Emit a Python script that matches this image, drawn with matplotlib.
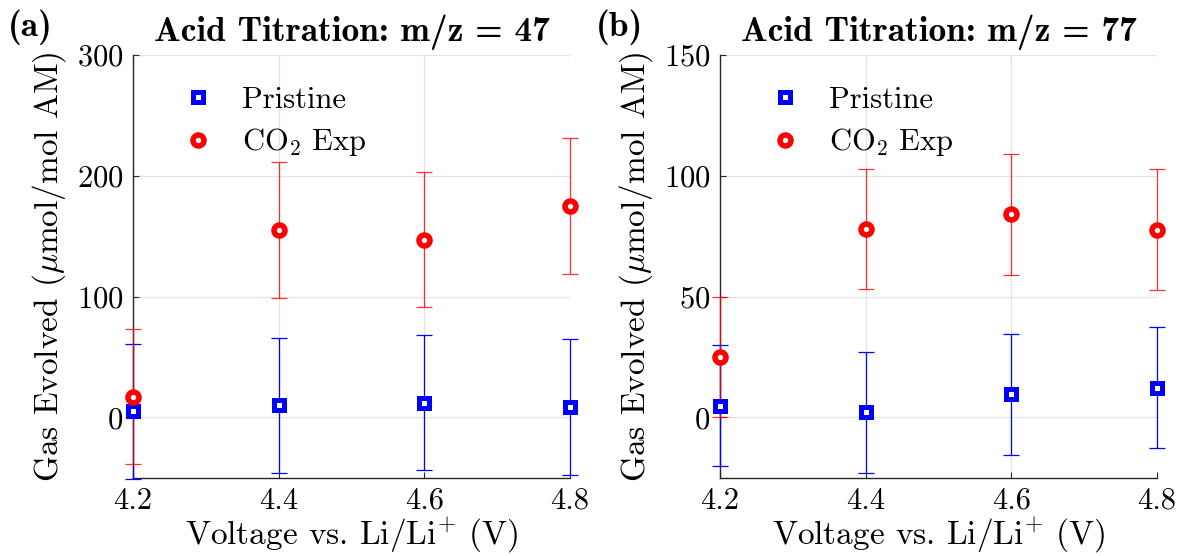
import matplotlib
matplotlib.use("Agg")
import matplotlib.pyplot as plt

plt.rcParams["font.family"] = "serif"
plt.rcParams["font.serif"] = ["cmr10"]
plt.rcParams["mathtext.fontset"] = "cm"
plt.rcParams["axes.formatter.use_mathtext"] = True
plt.rcParams["axes.unicode_minus"] = False

voltage = [4.2, 4.4, 4.6, 4.8]

# m/z = 47
pristine_47 = [5, 10, 12, 8.6]
pristine_47_err = [56, 56, 56, 56]
co2_47 = [17, 155, 147, 175]
co2_47_err = [56, 56, 56, 56]

# m/z = 77
pristine_77 = [4.8, 2.1, 9.5, 12.2]
pristine_77_err = [25, 25, 25, 25]
co2_77 = [25, 78, 84, 77.6]
co2_77_err = [25, 25, 25, 25]

panels = [
    ("(a)", "Acid Titration: m/z = 47", pristine_47, pristine_47_err,
     co2_47, co2_47_err, (-50, 300), [0, 100, 200, 300]),
    ("(b)", "Acid Titration: m/z = 77", pristine_77, pristine_77_err,
     co2_77, co2_77_err, (-25, 150), [0, 50, 100, 150]),
]

W, H = 1177, 556
fig = plt.figure(figsize=(W / 100, H / 100), dpi=100)
lefts_px = [133, 720]
width_px = 437
top_px, bottom_px = 55, 477.7

tick_fs = 22
legend_fs = 22
label_fs = 24
title_fs = 25.5

tag_x_px = [8, 596]

for i, (tag, title, p, pe, c, ce, ylim, yticks) in enumerate(panels):
    ax = fig.add_axes([lefts_px[i] / W, 1 - bottom_px / H,
                       width_px / W, (bottom_px - top_px) / H])
    # error bars
    ax.errorbar(voltage, p, yerr=pe, fmt="none", ecolor="blue",
                elinewidth=0.9, capsize=5.5, capthick=0.9, clip_on=False, zorder=3)
    ax.errorbar(voltage, c, yerr=ce, fmt="none", ecolor=(1, 0, 0, 0.8),
                elinewidth=0.9, capsize=5.5, capthick=0.9, clip_on=False, zorder=4)
    # markers
    ax.plot(voltage, p, "s", linestyle="none", markersize=7.4,
            markeredgewidth=3.6, markerfacecolor="white", markeredgecolor="blue",
            label="Pristine", clip_on=False, zorder=5)
    ax.plot(voltage, c, "o", linestyle="none", markersize=7.9,
            markeredgewidth=4.0, markerfacecolor="white", markeredgecolor="red",
            label=r"CO$_2$ Exp", clip_on=False, zorder=6)
    ax.set_xlim(4.2, 4.8)
    ax.set_ylim(*ylim)
    ax.set_xticks(voltage)
    ax.set_xticklabels([f"{v:.1f}" for v in voltage])
    ax.set_yticks(yticks)
    ax.grid(True, color="#e3e3e3", linewidth=0.9)
    ax.set_axisbelow(True)
    for s in ("top", "right"):
        ax.spines[s].set_visible(False)
    for s in ("left", "bottom"):
        ax.spines[s].set_color("#262626")
        ax.spines[s].set_linewidth(1.0)
    ax.tick_params(direction="in", length=4, width=0.8, colors="#262626",
                   labelcolor="black", labelsize=tick_fs, pad=7)
    ax.set_xlabel(r"Voltage vs. Li/Li$^{+}$ (V)", fontsize=label_fs, labelpad=0.5)
    ax.set_ylabel(r"Gas Evolved ($\mu$mol/mol AM)", fontsize=label_fs, labelpad=6)
    ax.set_title(title, fontsize=title_fs, fontfamily="cmb10", pad=10)
    ax.legend(loc="upper left", bbox_to_anchor=(0.051, 0.99), frameon=False,
              fontsize=legend_fs, handletextpad=0.94, labelspacing=0.4,
              handlelength=1.0, numpoints=1)
    fig.text(tag_x_px[i] / W, 1 - 27 / H, tag, fontsize=title_fs,
             fontfamily="cmb10", ha="left", va="center")

fig.savefig("out.png", dpi=100)
